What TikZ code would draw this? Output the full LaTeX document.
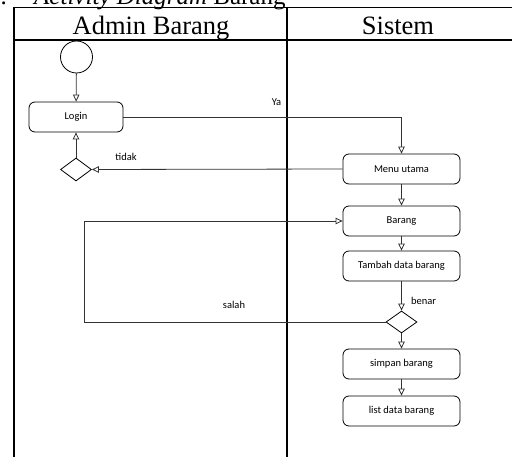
\documentclass[tikz,border=0pt]{standalone}
\usepackage{fontspec}
\setmainfont{Liberation Serif}
\newfontfamily\diafont{Carlito}
\usetikzlibrary{arrows.meta,shapes.geometric}
\begin{document}
\begin{tikzpicture}[x=1pt,y=-1pt,
  act/.style={draw, rounded corners=6pt, minimum width=117pt, minimum height=30pt, inner sep=0pt,
    font=\diafont\fontsize{10.5}{12}\selectfont, line width=0.8pt},
  dec/.style={draw, diamond, minimum width=31pt, minimum height=23pt, inner sep=0pt, line width=0.8pt},
  startnode/.style={draw, circle, minimum size=32pt, inner sep=0pt, line width=0.8pt},
  flow/.style={line width=0.8pt, draw=black!80, -{Triangle[open,length=7pt,width=6.5pt]}},
  lbl/.style={font=\diafont\fontsize{10.5}{12}\selectfont, inner sep=0pt},
  head/.style={font=\fontsize{26.5}{28}\selectfont, anchor=base, inner sep=0pt}]
\useasboundingbox (0,0) rectangle (512,457);
\clip (0,0) rectangle (512,457);
% title (cut off at top)
\node[font=\fontsize{25}{28}\selectfont, anchor=base east, inner sep=0pt] (tdot) at (7,5) {.};
\node[font=\fontsize{25}{28}\selectfont, anchor=base west, inner sep=0pt] (title) at (34,5) {\textit{Activity Diagram} Barang};
% swimlane table
\draw[line width=1.5pt] (13,7.5) -- (512,7.5);
\draw[line width=1.5pt] (13,40) -- (512,40);
\draw[line width=2pt] (14,7) -- (14,457);
\draw[line width=1.3pt] (287,7) -- (287,457);
\node[head] (h1) at (151,35) {Admin Barang};
\node[head] (h2) at (398,35) {Sistem};
% nodes
\node[startnode] (start) at (76.5,57) {};
\node[act, minimum width=94pt] (login) at (76,117) {Login};
\node[dec] (d1) at (76,169.5) {};
\node[act] (menu) at (401.5,169) {Menu utama};
\node[act] (barang) at (401.5,221) {Barang};
\node[act] (tambah) at (401.5,266) {Tambah data barang};
\node[dec, minimum height=22pt] (d2) at (401.5,322) {};
\node[act] (simpan) at (401.5,364) {simpan barang};
\node[act] (list) at (401.5,411) {list data barang};
\coordinate (loop) at (84,322);
% connectors
\draw[flow] (start) -- (login);
\draw[flow] (login.east) -| (menu.north);
\draw[flow] (d1.north) -- (login.south);
\draw[flow] (menu.west) -- (d1.east);
\draw[flow] (menu) -- (barang);
\draw[flow] (barang) -- (tambah);
\draw[flow] (tambah) -- (d2);
\draw[flow] (d2.west) -- (loop) |- (barang.west);
\draw[flow] (d2) -- (simpan);
\draw[flow] (simpan) -- (list);
% labels
\node[lbl] (lya) at (276.5,102) {Ya};
\node[lbl] (ltidak) at (126,157) {tidak};
\node[lbl] (lbenar) at (423.5,301) {benar};
\node[lbl] (lsalah) at (234,305) {salah};
\end{tikzpicture}
\end{document}
